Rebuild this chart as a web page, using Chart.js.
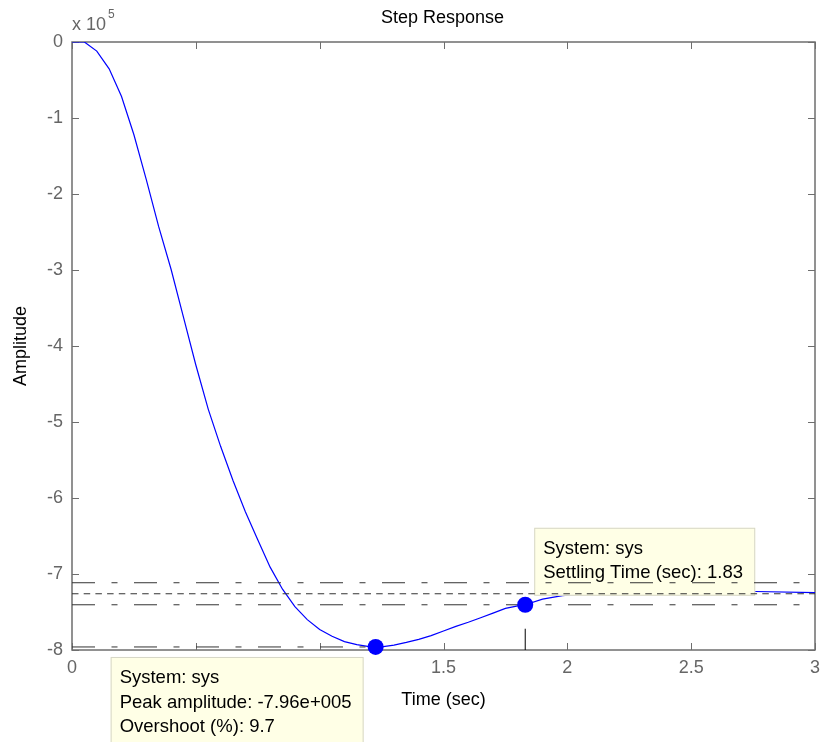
<!DOCTYPE html>
<html>
<head>
<meta charset="utf-8">
<title>Step Response</title>
<script src="https://cdn.jsdelivr.net/npm/chart.js@4/dist/chart.umd.min.js"></script>
<style>
  html, body { margin: 0; padding: 0; background: #fff; }
  #wrap { width: 823px; height: 742px; }
</style>
</head>
<body>
<div id="wrap"><canvas id="stepChart" width="823" height="742"></canvas></div>
<script>
// Step response of "sys" — amplitude in units of 1e5

var timeSec = [0, 0.05, 0.1, 0.15, 0.2, 0.25, 0.3, 0.35, 0.4, 0.45, 0.5, 0.55, 0.6, 0.65, 0.7, 0.75,
  0.8, 0.85, 0.9, 0.95, 1.0, 1.05, 1.1, 1.15, 1.2, 1.226, 1.25, 1.3, 1.35, 1.4, 1.45, 1.5, 1.55,
  1.6, 1.65, 1.7, 1.75, 1.8, 1.83, 1.9, 1.98, 2.1, 2.3, 2.5, 2.76, 3.0];
var amplitudeE5 = [0, 0, -0.12, -0.353, -0.718, -1.22, -1.81, -2.43, -2.99, -3.62, -4.25, -4.83, -5.32, -5.77, -6.18, -6.55,
  -6.91, -7.2, -7.43, -7.6, -7.73, -7.82, -7.89, -7.93, -7.955, -7.96, -7.958, -7.935, -7.9, -7.86, -7.81, -7.75, -7.69,
  -7.635, -7.575, -7.515, -7.452, -7.42, -7.405, -7.33, -7.285, -7.25, -7.23, -7.225, -7.23, -7.245];

var xTickStep = 0.5;
var yTickStep = 1;

var finalValue = -7.26;
var settleBand = [-7.115, -7.405];   // +/- 2 %
var peakTime = 1.226, peakAmp = -7.96;
var settleTime = 1.83, settleAmp = -7.405;
var settleMarkerTop = -7.72;

var peakText = ['System: sys', 'Peak amplitude: -7.96e+005', 'Overshoot (%): 9.7'];
var settleText = ['System: sys', 'Settling Time (sec): 1.83'];

var FONT = "'Liberation Sans', Arial, sans-serif";
var axisGray = '#6e6e6e';
var labelGray = '#666666';
var dashDot = [23, 16.5, 6, 16.5];
var shortDash = [6.5, 5.2];

function pts(xs, ys) {
    return xs.map(function (x, i) { return { x: x, y: ys[i] }; });
}

// ── box with inward ticks on all four sides, title, exponent ─────────────
var frameTicks = {
    id: 'frameTicks',
    beforeDatasetsDraw: function (chart) {
        var ctx = chart.ctx, a = chart.chartArea;
        var xs = chart.scales.x, ys = chart.scales.y;
        ctx.save();
        ctx.strokeStyle = axisGray;
        ctx.lineWidth = 1.5;
        ctx.strokeRect(a.left, a.top, a.right - a.left, a.bottom - a.top);
        ctx.lineWidth = 1;
        ctx.beginPath();
        xs.ticks.forEach(function (t) {
            var px = Math.round(xs.getPixelForValue(t.value)) + 0.5;
            ctx.moveTo(px, a.bottom); ctx.lineTo(px, a.bottom - 7);
            ctx.moveTo(px, a.top); ctx.lineTo(px, a.top + 7);
        });
        ys.ticks.forEach(function (t) {
            var py = Math.round(ys.getPixelForValue(t.value)) + 0.5;
            ctx.moveTo(a.left, py); ctx.lineTo(a.left + 7, py);
            ctx.moveTo(a.right, py); ctx.lineTo(a.right - 7, py);
        });
        ctx.stroke();

        ctx.fillStyle = '#000';
        ctx.font = '18px ' + FONT;
        ctx.textAlign = 'center';
        ctx.textBaseline = 'middle';
        ctx.fillText('Step Response', (a.left + a.right) / 2 - 1, 18);
        ctx.fillStyle = labelGray;
        ctx.textAlign = 'left';
        ctx.textBaseline = 'alphabetic';
        ctx.fillText('x 10', a.left, 30);
        var w = ctx.measureText('x 10').width;
        ctx.font = '12px ' + FONT;
        ctx.fillText('5', a.left + w + 2, 18);
        ctx.restore();
    }
};

// ── data tips ────────────────────────────────────────────────────────────
var TIP_FONT = '18.5px ' + FONT;

function tipSize(ctx, lines, lineGap) {
    ctx.save();
    ctx.font = TIP_FONT;
    var w = 0;
    lines.forEach(function (s) { w = Math.max(w, ctx.measureText(s).width); });
    ctx.restore();
    return { w: Math.round(w + 21), h: Math.round(20 + lines.length * lineGap) };
}

function drawTip(ctx, lines, box, lineGap) {
    ctx.save();
    ctx.fillStyle = '#ffffe6';
    ctx.strokeStyle = '#d6d6c6';
    ctx.lineWidth = 1;
    ctx.fillRect(box.x, box.y, box.w, box.h);
    ctx.strokeRect(box.x + 0.5, box.y + 0.5, box.w - 1, box.h - 1);
    ctx.fillStyle = '#000';
    ctx.font = TIP_FONT;
    ctx.textAlign = 'left';
    ctx.textBaseline = 'middle';
    lines.forEach(function (s, i) {
        ctx.fillText(s, box.x + 9, box.y + 21 + i * lineGap);
    });
    ctx.restore();
}

var dataTips = {
    id: 'dataTips',
    afterDatasetDraw: function (chart, args) {
        if (args.index !== 0) return;   // right after the response curve
        var ctx = chart.ctx;
        var px = chart.scales.x.getPixelForValue(settleTime);
        var py = chart.scales.y.getPixelForValue(settleAmp);
        var s = tipSize(ctx, settleText, 24);
        drawTip(ctx, settleText, { x: px + 9, y: py - 9 - s.h, w: s.w, h: s.h }, 24);
    },
    afterDraw: function (chart) {
        var ctx = chart.ctx;
        var px = chart.scales.x.getPixelForValue(peakTime);
        var py = chart.scales.y.getPixelForValue(peakAmp);
        var s = tipSize(ctx, peakText, 24.5);
        drawTip(ctx, peakText, { x: px - 12 - s.w, y: py + 10, w: s.w, h: s.h + 20 }, 24.5);
    }
};

function hLine(v, x0, x1, dash) {
    return {
        data: [{ x: x0, y: v }, { x: x1, y: v }],
        borderColor: '#333333', borderWidth: 1, borderDash: dash,
        pointRadius: 0, order: 3
    };
}

new Chart(document.getElementById('stepChart'), {
    type: 'line',
    data: {
        datasets: [
            {
                data: pts(timeSec, amplitudeE5),
                borderColor: '#0000ff', borderWidth: 1.2,
                pointRadius: 0, tension: 0, order: 5
            },
            hLine(settleBand[0], 0, 3, dashDot),
            hLine(finalValue, 0, 3, shortDash),
            hLine(settleBand[1], 0, 3, dashDot),
            hLine(peakAmp, 0, peakTime, dashDot),
            {
                data: [{ x: settleTime, y: -8 }, { x: settleTime, y: settleMarkerTop }],
                borderColor: '#000', borderWidth: 1, pointRadius: 0, order: 2
            },
            {
                data: [{ x: peakTime, y: peakAmp }, { x: settleTime, y: settleAmp }],
                showLine: false, pointRadius: 8, pointHoverRadius: 8,
                pointBackgroundColor: '#0000ff', pointBorderWidth: 0,
                clip: false, order: 1
            }
        ]
    },
    options: {
        responsive: false,
        animation: false,
        events: [],
        layout: { padding: { top: 42, right: 7, left: 0, bottom: 0 } },
        plugins: { legend: { display: false }, tooltip: { enabled: false } },
        scales: {
            x: {
                type: 'linear', min: 0, max: 3,
                grid: { display: false, drawTicks: false },
                border: { display: false },
                ticks: {
                    stepSize: xTickStep, color: labelGray, font: { family: FONT, size: 18 }, padding: 7, maxRotation: 0,
                    callback: function (v) { return String(Math.round(v * 10) / 10); }
                },
                title: { display: true, text: 'Time (sec)', color: '#000', font: { family: FONT, size: 18 }, padding: { top: 0, bottom: 31 } },
                afterFit: function (s) { s.height = 92; s.paddingRight = 0; s.paddingLeft = 0; }
            },
            y: {
                min: -8, max: 0,
                grid: { display: false, drawTicks: false },
                border: { display: false },
                ticks: { stepSize: yTickStep, color: labelGray, font: { family: FONT, size: 18 }, padding: 9 },
                title: { display: true, text: 'Amplitude', color: '#000', font: { family: FONT, size: 18 }, padding: { top: 10, bottom: 0 } },
                afterFit: function (s) { s.width = 72; s.paddingTop = 0; s.paddingBottom = 0; }
            }
        }
    },
    plugins: [frameTicks, dataTips]
});
</script>
</body>
</html>
